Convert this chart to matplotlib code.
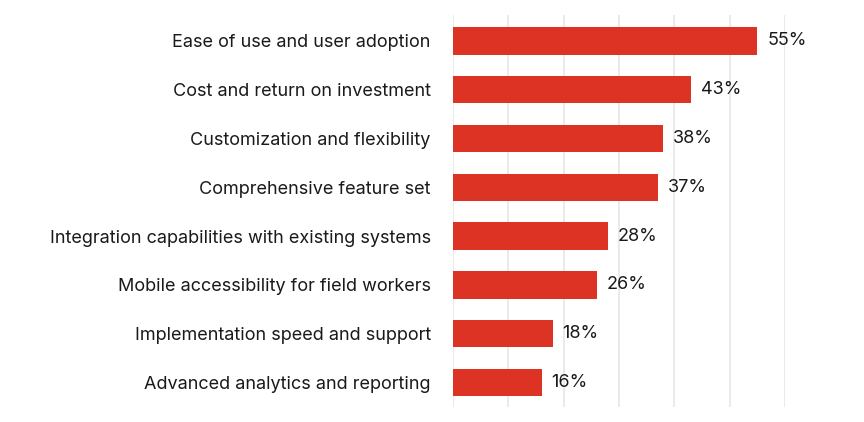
import matplotlib
matplotlib.use('Agg')
import matplotlib.pyplot as plt
from matplotlib.transforms import offset_copy

plt.rcParams['font.family'] = ['Inter', 'DejaVu Sans']

categories = ['Ease of use and user adoption',
              'Cost and return on investment',
              'Customization and flexibility',
              'Comprehensive feature set',
              'Integration capabilities with existing systems',
              'Mobile accessibility for field workers',
              'Implementation speed and support',
              'Advanced analytics and reporting']
values = [55, 43, 38, 37, 28, 26, 18, 16]
value_labels = ['55%', '43%', '38%', '37%', '28%', '26%', '18%', '16%']

bar_color = '#DC3324'

fig = plt.figure(figsize=[8.64, 4.22], dpi=100)
ax = fig.add_axes([453/864., 15/422., (785-453)/864., (407-15)/422.])

ypos = list(range(len(categories)))
ax.barh(ypos, values, height=0.56, color=bar_color, zorder=3)

ax.set_xlim(0, 60)
ax.set_ylim(7.5, -0.53)
ax.set_xticks(range(0, 61, 10))
ax.grid(axis='x', color='#E6E6E6', linewidth=1.2, zorder=0)
ax.tick_params(axis='x', length=0, labelbottom=False)
ax.tick_params(axis='y', length=0, pad=16)
ax.set_yticks(ypos)
ax.set_yticklabels(categories, fontsize=13, color='#1a1a1a')
for s in ax.spines.values():
    s.set_visible(False)

# value labels next to the bar ends
trans = offset_copy(ax.transData, fig=fig, x=10, y=0, units='dots')
for y, v, lab in zip(ypos, values, value_labels):
    ax.text(v, y, lab, transform=trans, va='center', ha='left',
            fontsize=13, color='#1a1a1a')

fig.savefig('out.png', dpi=100)
